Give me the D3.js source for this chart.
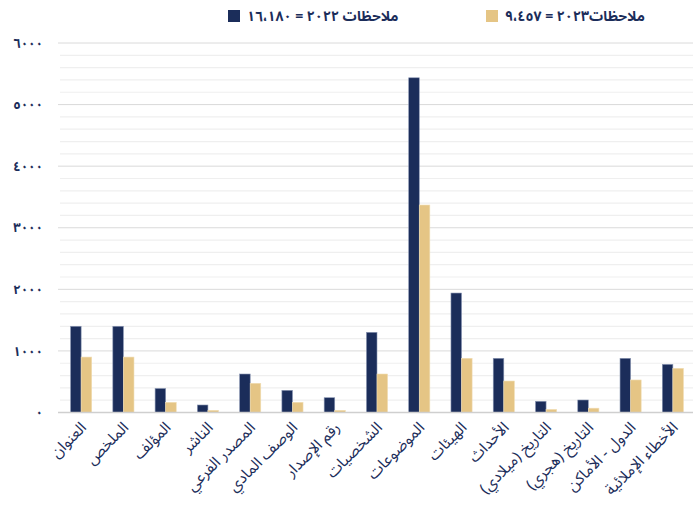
<!DOCTYPE html>
<html><head><meta charset="utf-8">
<script src="https://cdn.jsdelivr.net/npm/d3@7"></script>
<style>
html,body{margin:0;padding:0;background:#fff;}
svg{display:block;font-family:"Noto Sans Arabic","DejaVu Sans",sans-serif;}
</style></head><body>
<svg id="c" width="693" height="509"></svg>
<script>
const categories = ["العنوان","الملخص","المؤلف","الناشر","المصدر الفرعي","الوصف المادي","رقم الإصدار","الشخصيات","الموضوعات","الهيئات","الأحداث","التاريخ (ميلادي)","التاريخ (هجري)","الدول - الأماكن","الأخطاء الإملائية"];
const values2022 = [1400,1400,390,122,625,360,240,1302,5435,1940,880,182,203,880,782];
const values2023 = [900,900,165,35,474,165,35,625,3369,880,511,50,70,528,717];
const seriesNames = ["ملاحظات ٢٠٢٢ = ١٦،١٨٠","ملاحظات٢٠٢٣ = ٩،٤٥٧"];
const yTicks = [0,1000,2000,3000,4000,5000,6000];
const yTickLabels = ["٠","١٠٠٠","٢٠٠٠","٣٠٠٠","٤٠٠٠","٥٠٠٠","٦٠٠٠"];

const navy = "#1b2d5a", gold = "#e5c585";
const svg = d3.select("#c");
const y = d3.scaleLinear().domain([0,6000]).range([412.5,43]);
const x = d3.scaleBand().domain(categories).range([60,694]).paddingInner(0.5).paddingOuter(0.25);
const x1 = d3.scaleBand().domain([0,1]).range([0,x.bandwidth()]);

// minor gridlines
const minor = d3.range(200,6001,200).filter(v=>v%1000!==0);
svg.append("g").selectAll("line").data(minor).join("line")
  .attr("x1",60).attr("x2",693).attr("y1",d=>y(d)).attr("y2",d=>y(d))
  .attr("stroke","#efefef").attr("stroke-width",1.2);
// major gridlines
svg.append("g").selectAll("line").data(yTicks.slice(1)).join("line")
  .attr("x1",58).attr("x2",693).attr("y1",d=>y(d)).attr("y2",d=>y(d))
  .attr("stroke","#dadada").attr("stroke-width",1);

// y axis labels
const yAxis = d3.axisLeft(y).tickValues(yTicks).tickFormat((d,i)=>yTickLabels[i]).tickSize(0).tickPadding(17);
const ga = svg.append("g").attr("transform","translate(60,0)").call(yAxis);
ga.select(".domain").remove();
ga.selectAll("text").attr("fill",navy).attr("font-size",13).attr("font-weight","bold").attr("font-family","\"Noto Sans Arabic\",\"DejaVu Sans\",sans-serif");

// bars
const series = [values2022, values2023];
const colors = [navy, gold];
series.forEach((vals,si)=>{
  svg.append("g").selectAll("rect").data(vals).join("rect")
    .attr("x",(d,i)=>x(categories[i])+x1(si))
    .attr("width",x1.bandwidth())
    .attr("y",d=>y(d))
    .attr("height",d=>y(0)-y(d))
    .attr("fill",colors[si])
    .attr("stroke", si===0 ? "#8a96b3" : "#f0ddb3").attr("stroke-width",0.6);
});

// baseline
svg.append("line").attr("x1",58).attr("x2",693).attr("y1",y(0)).attr("y2",y(0))
  .attr("stroke","#cfcfcf").attr("stroke-width",1.5);

// x labels
const xAxis = d3.axisBottom(x).tickSize(0).tickPadding(0);
const gx = svg.append("g").attr("transform",`translate(0,${y(0)})`).call(xAxis);
gx.select(".domain").remove();
gx.selectAll("text")
  .attr("fill",navy).attr("font-size",15.5)
  .attr("font-family","\"Noto Sans Arabic\",\"DejaVu Sans\",sans-serif")
  .attr("text-anchor","end")
  .attr("dy",0)
  .attr("transform","translate(6,16) rotate(-45)");

// legend
const legend = [{sq:228, c:navy, t:seriesNames[0]},{sq:486, c:gold, t:seriesNames[1]}];
const lg = svg.append("g");
legend.forEach(l=>{
  lg.append("rect").attr("x",l.sq).attr("y",10).attr("width",12).attr("height",12).attr("fill",l.c);
  lg.append("text").attr("x",l.sq+19).attr("y",21).attr("text-anchor","start")
    .attr("fill",navy).attr("font-size",14).attr("font-weight","bold").text(l.t);
});
</script>
</body></html>
